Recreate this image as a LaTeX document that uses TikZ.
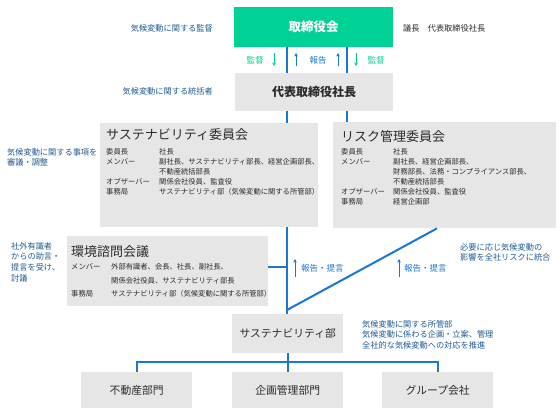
\documentclass[tikz,border=0pt]{standalone}
\usepackage{fontspec}
\newfontfamily\jp{Noto Sans CJK JP}
\usetikzlibrary{arrows.meta}
\definecolor{grn}{HTML}{00D296}
\definecolor{boxgray}{HTML}{E6E6E6}
\definecolor{lblue}{HTML}{1A78D2}
\definecolor{navy}{HTML}{1F5A96}
\definecolor{txt}{HTML}{2B2B2B}
\tikzset{
  box/.style={fill=boxgray, inner sep=0pt, anchor=north west, text=txt},
  bigtxt/.style={font=\jp\fontsize{13}{14}\selectfont},
  midtxt/.style={font=\jp\fontsize{10.8}{12}\selectfont},
  small/.style={font=\jp\fontsize{7.3}{8}\selectfont, text=txt, inner sep=0pt, anchor=west},
  note/.style={font=\jp\fontsize{8.2}{10.8}\selectfont, text=navy, inner sep=0pt, align=left},
  conn/.style={draw=lblue, line width=2pt},
  smallarrow/.style={line width=1pt, -{Stealth[length=3.5pt,width=3.5pt]}},
  arrlbl/.style={font=\jp\fontsize{8.5}{9}\selectfont, inner sep=0pt}
}
\begin{document}
\begin{tikzpicture}[x=1pt,y=-1pt]
\useasboundingbox[fill=white] (0,0) rectangle (560,416);

% boxes
\node[box, fill=grn, text=white, minimum width=159pt, minimum height=40pt, font=\jp\fontsize{12.5}{14}\selectfont\bfseries] (board) at (234,7) {取締役会};
\node[box, minimum width=158pt, minimum height=38pt, font=\jp\fontsize{12}{14}\selectfont\bfseries] (ceo) at (235,73) {代表取締役社長};
\node[box, minimum width=218pt, minimum height=104pt] (sc) at (100,123) {};
\node[box, minimum width=223pt, minimum height=106pt] (rc) at (333,122) {};
\node[box, minimum width=201pt, minimum height=70pt] (env) at (67,236) {};
\node[box, minimum width=111pt, minimum height=39pt, midtxt] (sd) at (232,314) {サステナビリティ部};
\node[box, minimum width=111pt, minimum height=36pt, midtxt] (d1) at (81,372) {不動産部門};
\node[box, minimum width=111pt, minimum height=36pt, midtxt] (d2) at (232,372) {企画管理部門};
\node[box, minimum width=111pt, minimum height=36pt, midtxt] (d3) at (382,372) {グループ会社};

% coordinates
\coordinate (xa) at (287,0);
\coordinate (xb) at (347,0);
\coordinate (xd) at (437,0);
\coordinate (ej) at (287,267);
\coordinate (dbot) at (287,310);
\coordinate (hy) at (0,362);

% connectors
\draw[conn] (board.south -| xa) -- (ceo.north -| xa);
\draw[conn] (board.south -| xb) -- (ceo.north -| xb);
\draw[conn] (ceo.south -| xa) -- (sc.north -| xa);
\draw[conn] (ceo.south -| xb) -- (rc.north -| xb);
\draw[conn] (sc.south -| xa) -- (sd.north -| xa);
\draw[conn] (env.east |- ej) -- (ej);
\draw[conn] (rc.south -| xd) -- (dbot);
\draw[conn] (sd.south) -- (d2.north);
\draw[conn] (d1.north) -- (d1.north |- hy) -- (d3.north |- hy) -- (d3.north);

% small arrows between board and ceo
\coordinate (a1t) at (274,53); \coordinate (a1b) at (274,66);
\coordinate (a2t) at (296,53); \coordinate (a2b) at (296,66);
\coordinate (a3t) at (338,53); \coordinate (a3b) at (338,66);
\coordinate (a4t) at (356,53); \coordinate (a4b) at (356,66);
\draw[smallarrow, grn] (a1t) -- (a1b);
\draw[smallarrow, lblue] (a2b) -- (a2t);
\draw[smallarrow, lblue] (a3b) -- (a3t);
\draw[smallarrow, grn] (a4t) -- (a4b);
\node[arrlbl, text=grn] (l1) at (255,60) {監督};
\node[arrlbl, text=lblue] (l2) at (318,60) {報告};
\node[arrlbl, text=grn] (l3) at (376,60) {監督};

% report arrows
\coordinate (r1t) at (295,259); \coordinate (r1b) at (295,277);
\coordinate (r2t) at (399,259); \coordinate (r2b) at (399,277);
\draw[smallarrow, lblue] (r1b) -- (r1t);
\draw[smallarrow, lblue] (r2b) -- (r2t);
\node[arrlbl, text=lblue, anchor=west] (rl1) at (301,268) {報告・提言};
\node[arrlbl, text=lblue, anchor=west] (rl2) at (404,268) {報告・提言};

% side notes
\node[note, anchor=east] (n1) at (213,28) {気候変動に関する監督};
\node[note, anchor=east] (n2) at (213,91) {気候変動に関する統括者};
\node[note, anchor=west, text=txt] (n3) at (403,28) {議長\hspace{1em}代表取締役社長};
\node[note, anchor=north west] (n4) at (7,148) {気候変動に関する事項を\\審議・調整};
\node[note, anchor=north west] (n5) at (11,242) {社外有識者\\からの助言・\\提言を受け、\\討議};
\node[note, anchor=north west] (n6) at (460,243) {必要に応じ気候変動の\\影響を全社リスクに統合};
\node[note, anchor=north west] (n7) at (362,320) {気候変動に関する所管部\\気候変動に係わる企画・立案、管理\\全社的な気候変動への対応を推進};

% sustainability committee
\node[small, bigtxt] (sct) at (106,135) {サステナビリティ委員会};
\node[small] (sc1a) at (106,152) {委員長};
\node[small] (sc1b) at (159,152) {社長};
\node[small] (sc2a) at (106,162) {メンバー};
\node[small] (sc2b) at (159,162) {副社長、サステナビリティ部長、経営企画部長、};
\node[small] (sc3b) at (159,172) {不動産統括部長};
\node[small] (sc4a) at (106,182) {オブザーバー};
\node[small] (sc4b) at (159,182) {関係会社役員、監査役};
\node[small] (sc5a) at (106,192) {事務局};
\node[small] (sc5b) at (159,192) {サステナビリティ部（気候変動に関する所管部）};

% risk committee
\node[small, bigtxt] (rct) at (341,137) {リスク管理委員会};
\node[small] (rc1a) at (341,152) {委員長};
\node[small] (rc1b) at (393,152) {社長};
\node[small] (rc2a) at (341,162) {メンバー};
\node[small] (rc2b) at (393,162) {副社長、経営企画部長、};
\node[small] (rc3b) at (393,172) {財務部長、法務・コンプライアンス部長、};
\node[small] (rc4b) at (393,182) {不動産統括部長};
\node[small] (rc5a) at (341,192) {オブザーバー};
\node[small] (rc5b) at (393,192) {関係会社役員、監査役};
\node[small] (rc6a) at (341,202) {事務局};
\node[small] (rc6b) at (393,202) {経営企画部};

% environment council
\node[small, bigtxt] (ect) at (71,252) {環境諮問会議};
\node[small] (ec1a) at (71,267) {メンバー};
\node[small] (ec1b) at (111,267) {外部有識者、会長、社長、副社長、};
\node[small] (ec2b) at (111,281) {関係会社役員、サステナビリティ部長};
\node[small] (ec3a) at (71,294) {事務局};
\node[small] (ec3b) at (111,294) {サステナビリティ部（気候変動に関する所管部）};
\end{tikzpicture}
\end{document}
